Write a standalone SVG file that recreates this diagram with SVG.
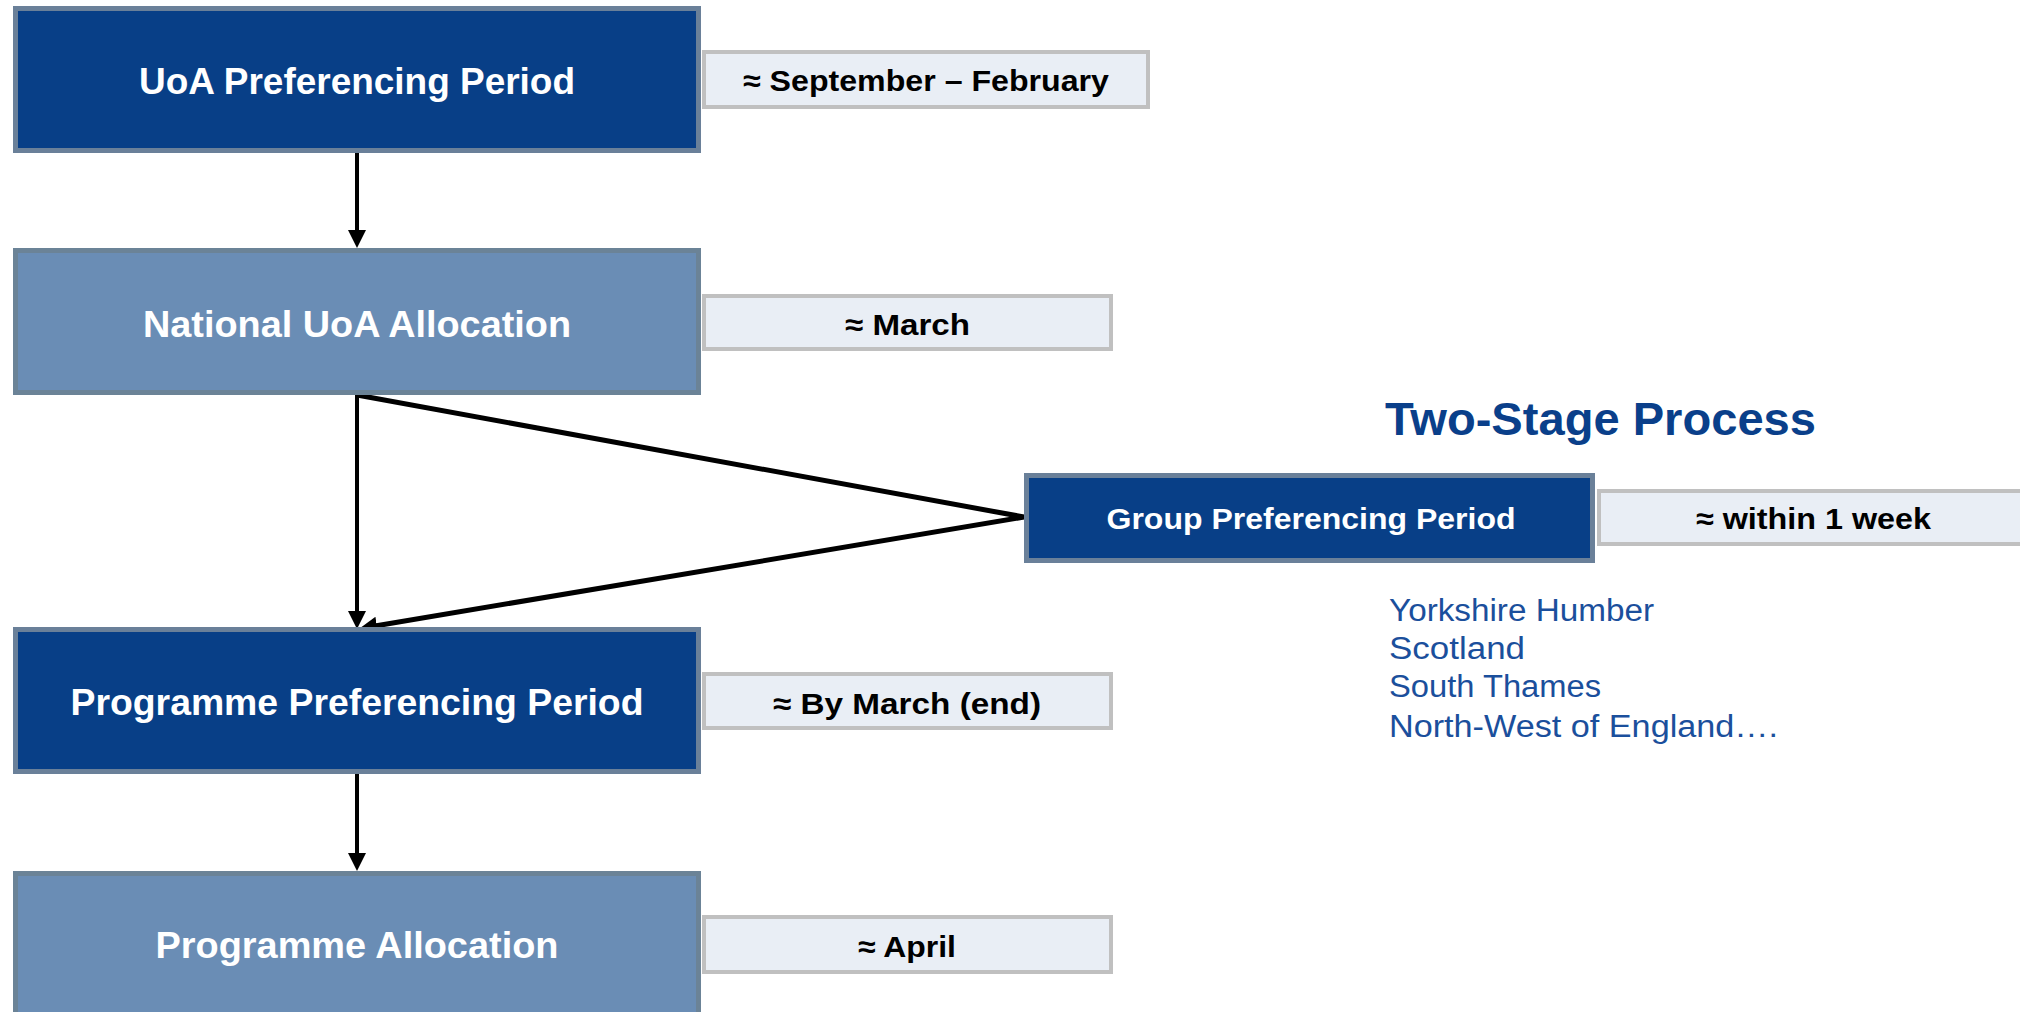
<svg xmlns="http://www.w3.org/2000/svg" width="2020" height="1012" viewBox="0 0 2020 1012">
<style>
.dark{fill:#083f87;stroke:#6a8099;stroke-width:5}
.light{fill:#6a8db5;stroke:#6b8397;stroke-width:5}
.lbl{fill:#e9eef5;stroke:#c0c0c0;stroke-width:4}
.bt{font-family:"Liberation Sans",Arial,sans-serif;font-weight:bold;fill:#ffffff;text-anchor:middle}
.lt{font-family:"Liberation Sans",Arial,sans-serif;font-weight:bold;fill:#000000;font-size:30px}
.title{font-family:"Liberation Sans",Arial,sans-serif;font-weight:bold;fill:#0a3f8a;font-size:47px}
.list{font-family:"Liberation Sans",Arial,sans-serif;fill:#1b4f9c;font-size:31px}
.conn{stroke:#000;fill:none}
</style>
<defs>
<marker id="ah" markerUnits="userSpaceOnUse" viewBox="0 0 18 18" refX="8" refY="9" markerWidth="18" markerHeight="18" orient="auto">
<path d="M0,0 L18,9 L0,18 z" fill="#000"/>
</marker>
</defs>
<rect width="2020" height="1012" fill="#ffffff"/>

<g id="connectors">
<line class="conn" x1="357" y1="153" x2="357" y2="238" stroke-width="4" marker-end="url(#ah)"/>
<line class="conn" x1="357" y1="395" x2="357" y2="619" stroke-width="4" marker-end="url(#ah)"/>
<polyline class="conn" points="357,395 1024,517 369,627" stroke-width="5" stroke-linejoin="miter" marker-end="url(#ah)"/>
<line class="conn" x1="357" y1="774" x2="357" y2="861" stroke-width="4" marker-end="url(#ah)"/>
</g>

<g id="uoa-preferencing">
<rect class="dark" x="15.5" y="8.5" width="683" height="142"/>
<text class="bt" x="357" y="94" font-size="37" textLength="436" lengthAdjust="spacingAndGlyphs">UoA Preferencing Period</text>
</g>
<g id="label-sep-feb">
<rect class="lbl" x="704" y="52" width="444" height="55"/>
<text class="lt" x="743" y="91" textLength="366" lengthAdjust="spacingAndGlyphs">≈ September – February</text>
</g>

<g id="national-uoa">
<rect class="light" x="15.5" y="250.5" width="683" height="142"/>
<text class="bt" x="357" y="337" font-size="37" textLength="428" lengthAdjust="spacingAndGlyphs">National UoA Allocation</text>
</g>
<g id="label-march">
<rect class="lbl" x="704" y="296" width="407" height="53"/>
<text class="lt" x="845" y="335" textLength="125" lengthAdjust="spacingAndGlyphs">≈ March</text>
</g>

<g id="programme-preferencing">
<rect class="dark" x="15.5" y="629.5" width="683" height="142"/>
<text class="bt" x="357" y="715" font-size="37" textLength="573" lengthAdjust="spacingAndGlyphs">Programme Preferencing Period</text>
</g>
<g id="label-by-march">
<rect class="lbl" x="704" y="674" width="407" height="54"/>
<text class="lt" x="773" y="714" textLength="268" lengthAdjust="spacingAndGlyphs">≈ By March (end)</text>
</g>

<g id="programme-allocation">
<rect class="light" x="15.5" y="873.5" width="683" height="150"/>
<text class="bt" x="357" y="958" font-size="37" textLength="403" lengthAdjust="spacingAndGlyphs">Programme Allocation</text>
</g>
<g id="label-april">
<rect class="lbl" x="704" y="917" width="407" height="55"/>
<text class="lt" x="858" y="957" textLength="98" lengthAdjust="spacingAndGlyphs">≈ April</text>
</g>

<g id="two-stage-title">
<text class="title" x="1385" y="435" textLength="431" lengthAdjust="spacingAndGlyphs">Two-Stage Process</text>
</g>

<g id="group-preferencing">
<rect class="dark" x="1026.5" y="475.5" width="566" height="85"/>
<text class="bt" x="1311" y="529" font-size="29" textLength="409" lengthAdjust="spacingAndGlyphs">Group Preferencing Period</text>
</g>
<g id="label-within-week">
<rect class="lbl" x="1599" y="491" width="430" height="53"/>
<text class="lt" x="1696" y="529" textLength="235" lengthAdjust="spacingAndGlyphs">≈ within 1 week</text>
</g>

<g id="regions-list">
<text class="list" x="1389" y="621" textLength="265" lengthAdjust="spacingAndGlyphs">Yorkshire Humber</text>
<text class="list" x="1389" y="659" textLength="136" lengthAdjust="spacingAndGlyphs">Scotland</text>
<text class="list" x="1389" y="697" textLength="212" lengthAdjust="spacingAndGlyphs">South Thames</text>
<text class="list" x="1389" y="737" textLength="389" lengthAdjust="spacingAndGlyphs">North-West of England….</text>
</g>
</svg>
